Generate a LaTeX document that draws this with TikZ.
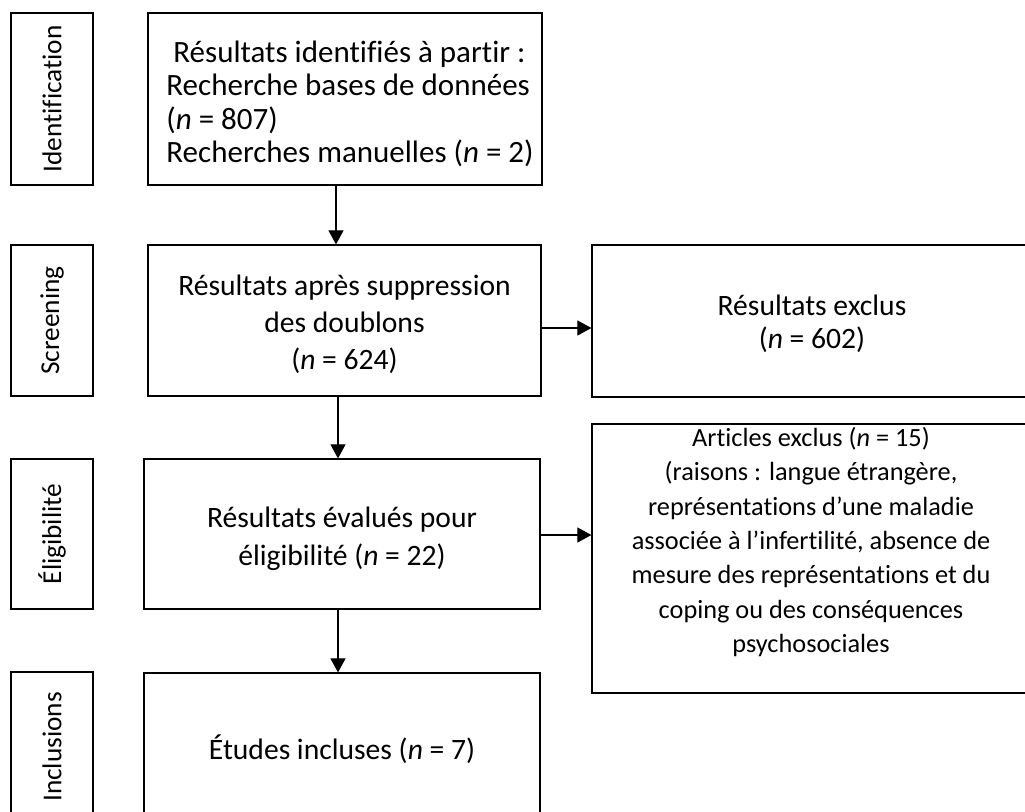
\documentclass[tikz,border=0pt]{standalone}
\usepackage{fontspec}
\setmainfont{Carlito}[Ligatures=NoCommon]
\usetikzlibrary{arrows.meta,calc}
\begin{document}
\begin{tikzpicture}[x=1pt,y=-1pt,
  mainbox/.style={draw, line width=1.2pt, inner sep=0pt, minimum width=394pt},
  boxtext/.style={align=center, inner sep=0pt, font=\fontsize{29.6}{37}\selectfont},
  sidebox/.style={draw, line width=1.2pt, inner sep=0pt, minimum width=82pt},
  sidelabel/.style={rotate=90, inner sep=0pt, font=\fontsize{27.3}{32}\selectfont},
  arr/.style={line width=1.1pt, -{Triangle[length=14pt,width=15pt]}}]
\useasboundingbox (0,0) rectangle (1025,811);
\fill[white] (0,0) rectangle (1025,811);
\clip (0,0) rectangle (1025,811);

% side boxes
\node[sidebox, minimum height=172pt] (sid) at (52,99) {};
\node[sidelabel] (sidt) at (sid.center) {Identification};
\node[sidebox, minimum height=151pt] (sscr) at (52,320.5) {};
\node[sidelabel] (sscrt) at (sscr.center) {Screening};
\node[sidebox, minimum height=150pt] (selig) at (52,534) {};
\node[sidelabel] (seligt) at (selig.center) {Éligibilité};
\node[sidebox, minimum height=150pt] (sinc) at (52,747) {};
\node[sidelabel] (sinct) at (sinc.center) {Inclusions};

% main column
\node[mainbox, minimum height=172pt] (b1) at (345,99) {};
\node[align=left, inner sep=0pt, font=\fontsize{31}{33.5}\selectfont] (b1t) at (350,104)
  {\hspace*{7pt}Résultats identifiés à partir :\\Recherche bases de données\\(\textit{n} = 807)\\Recherches manuelles (\textit{n} = 2)};
\node[mainbox, minimum width=393pt, minimum height=151pt] (b2) at (344.5,320.5) {};
\node[boxtext] (b2t) at (344.5,324)
  {Résultats après suppression\\des doublons\\(\textit{n} = 624)};
\node[mainbox, minimum width=396pt, minimum height=150pt] (b3) at (342,534) {};
\node[boxtext, font=\fontsize{29.6}{38.5}\selectfont] (b3t) at (342,539)
  {Résultats évalués pour\\éligibilité (\textit{n} = 22)};
\node[mainbox, minimum width=396pt, minimum height=150pt] (b4) at (342,748) {};
\node[boxtext] (b4t) at (342,749) {Études incluses (\textit{n} = 7)};

% right column
\node[mainbox, minimum width=440pt, minimum height=152pt] (e1) at (812,321) {};
\node[boxtext, font=\fontsize{29.6}{33.5}\selectfont] (e1t) at (812,324)
  {Résultats exclus\\(\textit{n} = 602)};
\node[mainbox, minimum width=440pt, minimum height=269pt] (e2) at (812,558.5) {};
\node[align=center, inner sep=0pt, font=\fontsize{26.3}{34.4}\selectfont] (e2t) at (811,542)
  {Articles exclus (\textit{n} = 15)\\(raisons : langue étrangère,\\représentations d’une maladie\\associée à l’infertilité, absence de\\mesure des représentations et du\\coping ou des conséquences\\psychosociales};

% connectors
\draw[arr] ([xshift=-9pt]b1.south) -- ([xshift=-9pt]b1.south |- b2.north);
\draw[arr] ([xshift=-6.5pt]b2.south) -- ([xshift=-6.5pt]b2.south |- b3.north);
\draw[arr] ([xshift=-4pt]b3.south) -- ([xshift=-4pt]b3.south |- b4.north);
\draw[arr] ([yshift=-7.5pt]b2.east) -- ([yshift=-7.5pt]b2.east -| e1.west);
\draw[arr] ([yshift=-1pt]b3.east) -- ([yshift=-1pt]b3.east -| e2.west);
\end{tikzpicture}
\end{document}
